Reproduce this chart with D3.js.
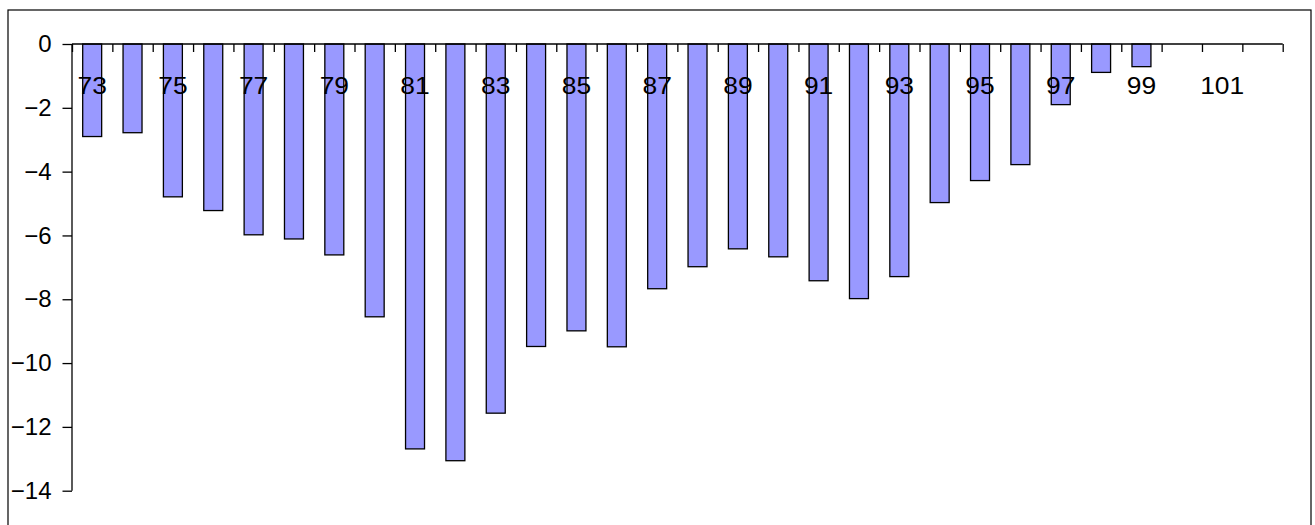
<!DOCTYPE html>
<html lang="en">
<head>
    <meta charset="UTF-8">
    <title>Bar chart 73-102</title>
    <script src="https://cdn.jsdelivr.net/npm/d3@7/dist/d3.min.js"></script>
    <style>
        body { margin: 0; background: #fff; }
        text { font-family: Arial, "Liberation Sans", sans-serif; }
    </style>
</head>
<body>
<svg width="1315" height="525"></svg>
<script>
// data
const years = d3.range(73, 103).map(String);
const values = [-2.9, -2.78, -4.79, -5.22, -5.98, -6.11, -6.61, -8.55, -12.69, -13.06,
                -11.57, -9.48, -8.99, -9.49, -7.67, -6.98, -6.42, -6.67, -7.42, -7.98,
                -7.29, -4.97, -4.28, -3.78, -1.9, -0.89, -0.71, null, null, null];
const xLabels = ["73","75","77","79","81","83","85","87","89","91","93","95","97","99","101"];
const yTicks = [0, -2, -4, -6, -8, -10, -12, -14];

const data = years.map((y, i) => ({year: y, value: values[i]}));

const svg = d3.select("svg");
const xStretch = 1.1, yStretch = 1.0; // labels are a little wide in the original

svg.append("rect")
    .attr("x", 8).attr("y", 10)
    .attr("width", 1303).attr("height", 540)
    .attr("fill", "none").attr("stroke", "#000").attr("stroke-width", 1.2);

const plotL = 72, plotR = 1282.7, plotT = 44, plotB = 490.7;

const x = d3.scaleBand().domain(years).range([plotL, plotR]).padding(0);
const xi = d3.scaleLinear().domain([0, years.length]).range([plotL, plotR]);
const y = d3.scaleLinear().domain([-14, 0]).range([plotB, plotT]);

// bars
svg.append("g").selectAll("rect")
    .data(data.filter(d => d.value != null))
    .join("rect")
    .attr("x", d => x(d.year) + x.bandwidth() * 0.265)
    .attr("width", x.bandwidth() * 0.47)
    .attr("y", y(0))
    .attr("height", d => y(d.value) - y(0))
    .attr("fill", "#9999ff")
    .attr("stroke", "#000")
    .attr("stroke-width", 1.3);

// y axis
const yAxis = svg.append("g")
    .attr("transform", "translate(" + plotL + ",0)")
    .call(d3.axisLeft(y).tickValues(yTicks).tickSize(9.5).tickPadding(11)
        .tickFormat(d3.format("d")));
yAxis.selectAll("path, line").attr("stroke", "#000").attr("stroke-width", 1.3);
yAxis.select(".domain").attr("d", "M0," + plotB + "V" + plotT);
yAxis.selectAll("text")
    .attr("font-size", 24).attr("fill", "#000")
    .attr("x", -20.5 / yStretch)
    .attr("transform", "scale(" + yStretch + ",1)");

// x axis: ticks between categories
const xTicks = svg.append("g")
    .attr("transform", "translate(0," + plotT + ")")
    .call(d3.axisBottom(xi).tickValues(d3.range(0, years.length + 1)).tickSize(8).tickFormat(""));
xTicks.selectAll("path, line").attr("stroke", "#000").attr("stroke-width", 1.3);
xTicks.select(".domain").attr("d", "M" + plotL + ",0H" + plotR);

// x labels
const xLab = svg.append("g")
    .attr("transform", "translate(0," + plotT + ")")
    .call(d3.axisBottom(x).tickValues(xLabels).tickSize(0).tickPadding(33));
xLab.select(".domain").remove();
xLab.selectAll("text")
    .attr("font-size", 24).attr("fill", "#000")
    .attr("transform", "scale(" + xStretch + ",1)");
</script>
</body>
</html>
